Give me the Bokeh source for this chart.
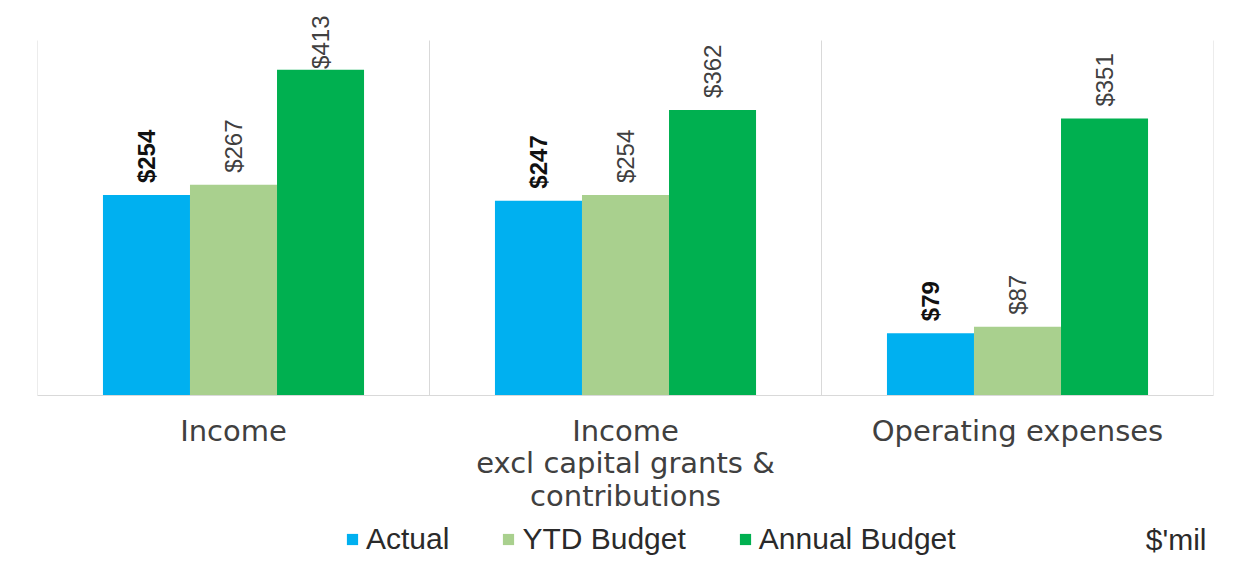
import math
from bokeh.plotting import figure
from bokeh.layouts import column
from bokeh.models import ColumnDataSource, FactorRange, Legend, LegendItem, Label, Range1d
from bokeh.transform import dodge
from bokeh.core.properties import value
from bokeh.embed import file_html
from bokeh.resources import INLINE

# ---- data ----
categories = ["Income", "Income\nexcl capital grants &\ncontributions", "Operating expenses"]
series = ["Actual", "YTD Budget", "Annual Budget"]
actual = [254, 247, 79]
ytd_budget = [267, 254, 87]
annual_budget = [413, 362, 351]
label_bold = [True, False, False]
colors = ["#00B0F0", "#A9D08E", "#00B050"]
unit_label = "$'mil"

Y_AXIS_MAX = 450          # implied value-axis maximum
FRAME_H = 385             # frame height in px
AXIS_PX = 355             # px used by 0..Y_AXIS_MAX
y_end = Y_AXIS_MAX * FRAME_H / AXIS_PX
px_per_unit = AXIS_PX / Y_AXIS_MAX
LABEL_PAD = 12 / px_per_unit
LABEL_CEIL = 414

values = [actual, ytd_budget, annual_budget]

W = 1220
LEFT, RIGHT = 37, 7
TOP, BOTTOM = 10, 121

p = figure(width=W, height=TOP + FRAME_H + BOTTOM,
           x_range=FactorRange(factors=categories),
           y_range=Range1d(0, y_end),
           y_axis_location=None,
           output_backend="svg", toolbar_location=None,
           min_border_left=LEFT, min_border_right=RIGHT,
           min_border_top=TOP, min_border_bottom=BOTTOM)
p.outline_line_color = None
p.xgrid.visible = False
p.ygrid.visible = False

# separators between categories
bounds = list(range(len(categories) + 1))
p.segment(x0=bounds, y0=[0] * len(bounds), x1=bounds, y1=[Y_AXIS_MAX] * len(bounds),
          line_color="#d9d9d9", line_width=1)

bar_w = 0.222
for i, (name, vals, col) in enumerate(zip(series, values, colors)):
    off = (i - 1) * bar_w
    src = ColumnDataSource(dict(
        cat=categories, v=vals,
        label=[f"${v}" for v in vals],
        ly=[min(v + LABEL_PAD, LABEL_CEIL) for v in vals],
    ))
    p.vbar(x=dodge("cat", off, range=p.x_range), top="v", width=bar_w,
           source=src, fill_color=col, line_color=None)
    p.text(x=dodge("cat", off, range=p.x_range), y="ly", text="label", source=src,
           angle=math.pi / 2, text_align="left", text_baseline="middle",
           text_font=value("Liberation Sans"), text_font_size="24px",
           text_font_style="bold" if label_bold[i] else "normal",
           text_color="#111111" if label_bold[i] else "#404040")

ax = p.xaxis[0]
ax.major_label_text_font = "DejaVu Sans"
ax.major_label_text_font_size = "29px"
ax.major_label_text_line_height = 0.96
ax.major_label_text_color = "#404040"
ax.major_tick_line_color = None
ax.minor_tick_line_color = None
ax.major_tick_out = 0
ax.major_tick_in = 0
ax.axis_line_color = "#d9d9d9"
ax.major_label_standoff = 18

# ---- legend strip (frame aligned with the chart frame) ----
LH = 40
p2 = figure(width=W, height=LH, x_range=Range1d(LEFT, W - RIGHT), y_range=Range1d(0, LH),
            x_axis_location=None, y_axis_location=None,
            output_backend="svg", toolbar_location=None,
            min_border_left=LEFT, min_border_right=RIGHT, min_border_top=0, min_border_bottom=0)
p2.outline_line_color = None
p2.xgrid.visible = False
p2.ygrid.visible = False

items = []
for name, col in zip(series, colors):
    r = p2.vbar(x=[-1e6], top=[0], width=1, fill_color=col, line_color=None)
    items.append(LegendItem(label=name, renderers=[r]))

legend = Legend(items=items, orientation="horizontal", location=(345 - LEFT, 0),
                label_text_font="Liberation Sans", label_text_font_size="30px",
                label_text_color="#2a2a2a", glyph_width=14, glyph_height=14,
                label_standoff=7, spacing=52, border_line_color=None,
                background_fill_alpha=0, padding=0, margin=0)
p2.add_layout(legend)

p2.add_layout(Label(x=1206, y=17, text=unit_label,
                    text_align="right", text_baseline="middle",
                    text_font="Liberation Sans", text_font_size="30px",
                    text_color="#2a2a2a"))

layout = column(p, p2, spacing=0)
open("out.html", "w").write(file_html(layout, INLINE))
